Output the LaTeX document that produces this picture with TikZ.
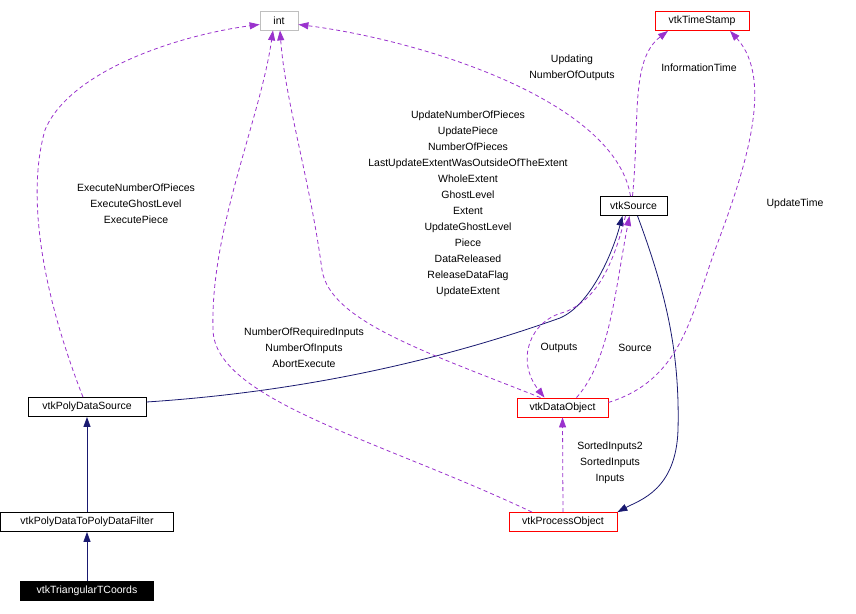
\documentclass[tikz,border=0pt]{standalone}
\usepackage{fontspec}
\setmainfont{Liberation Sans}
\usetikzlibrary{arrows.meta}
\definecolor{usecol}{HTML}{9A32CD}
\definecolor{inhcol}{HTML}{191970}
\definecolor{intgray}{HTML}{BFBFBF}
\begin{document}
\begin{tikzpicture}[x=1pt,y=-1pt,font=\fontsize{10.5}{16}\selectfont]
\tikzstyle{cls} = [draw=black, minimum height=19pt, inner sep=0pt, line width=0.8pt] % class box
\tikzstyle{redcls} = [cls, draw=red] % box with red frame
\tikzstyle{inh} = [draw=inhcol, line width=0.8pt, -{Triangle[length=10pt,width=7pt]}] % base class arrow
\tikzstyle{use} = [draw=usecol, line width=0.8pt, dash pattern=on 4pt off 3pt, -{Triangle[length=10pt,width=7pt]}] % usage arrow
\tikzstyle{lbl} = [align=center, inner sep=0pt] % edge label
\useasboundingbox (0,0) rectangle (856,613);
% classes
\node[cls, draw=intgray, minimum width=38pt] (int) at (279,20.5) {int};
\node[redcls, minimum width=94pt] (ts) at (702,21) {vtkTimeStamp};
\node[cls, minimum width=67pt] (src) at (633.5,206) {vtkSource};
\node[cls, minimum width=118pt] (pds) at (87,407) {vtkPolyDataSource};
\node[redcls, minimum width=91pt] (dobj) at (562.5,407.5) {vtkDataObject};
\node[cls, minimum width=173pt] (filt) at (87,522) {vtkPolyDataToPolyDataFilter};
\node[redcls, minimum width=108pt] (ppo) at (563,522) {vtkProcessObject};
\node[cls, fill=black, text=white, minimum width=133pt] (tri) at (87,591) {vtkTriangularTCoords};
% inheritance
\draw[inh] (tri.north) -- (filt.south);
\draw[inh] (filt.north) -- (pds.south);
\draw[inh] ([yshift=5pt]pds.east) .. controls (330,390) and (470,350) .. (560,318)
    .. controls (590,305) and (612,255) .. ([xshift=-11pt]src.south);
\draw[inh] ([xshift=4pt]src.south) .. controls (665,290) and (680,350) .. (678,430)
    .. controls (676,490) and (640,500) .. (ppo.north east);
% usage
\draw[use] ([xshift=-4pt]pds.north) .. controls (45,300) and (25,200) .. (45,130)
    .. controls (70,70) and (180,35) .. ([yshift=-4pt]int.west);
\draw[use] ([xshift=-3pt]src.north) .. controls (615,100) and (420,40) .. ([yshift=-4pt]int.east);
\draw[use] ([xshift=-1pt]src.north) .. controls (640,120) and (630,60) .. ([xshift=-34pt]ts.south);
\draw[use] ([yshift=5pt]dobj.east) .. controls (680,380) and (690,320) .. (715,250)
    .. controls (745,170) and (775,80) .. ([xshift=28pt]ts.south);
\draw[use] ([xshift=-22pt]dobj.north) .. controls (420,350) and (330,320) .. (322,270)
    .. controls (310,180) and (285,100) .. ([xshift=1pt]int.south);
\draw[use] ([xshift=-31pt]ppo.north) .. controls (380,440) and (215,400) .. (213,330)
    .. controls (210,230) and (260,120) .. ([xshift=-6pt]int.south);
\draw[use] ([xshift=-8pt]src.south) .. controls (612,270) and (595,300) .. (565,312)
    .. controls (530,320) and (515,360) .. ([xshift=-18pt]dobj.north);
\draw[use] ([xshift=14pt]dobj.north) .. controls (610,360) and (615,290) .. ([xshift=-4pt]src.south);
\draw[use] (ppo.north) -- (dobj.south);
% labels
\node[lbl] (lexec) at (136,204) {ExecuteNumberOfPieces\\ExecuteGhostLevel\\ExecutePiece};
\node[lbl] (lupd) at (572,68) {Updating\\NumberOfOutputs};
\node[lbl] (linfo) at (699,68) {InformationTime};
\node[lbl] (lutime) at (795,204) {UpdateTime};
\node[lbl] (ldobj) at (468,204) {UpdateNumberOfPieces\\UpdatePiece\\NumberOfPieces\\LastUpdateExtentWasOutsideOfTheExtent\\WholeExtent\\GhostLevel\\Extent\\UpdateGhostLevel\\Piece\\DataReleased\\ReleaseDataFlag\\UpdateExtent};
\node[lbl] (lppo) at (304,348) {NumberOfRequiredInputs\\NumberOfInputs\\AbortExecute};
\node[lbl] (lout) at (559,348) {Outputs};
\node[lbl] (lsrc) at (635,348) {Source};
\node[lbl] (lin) at (610,463) {SortedInputs2\\SortedInputs\\Inputs};
\end{tikzpicture}
\end{document}
